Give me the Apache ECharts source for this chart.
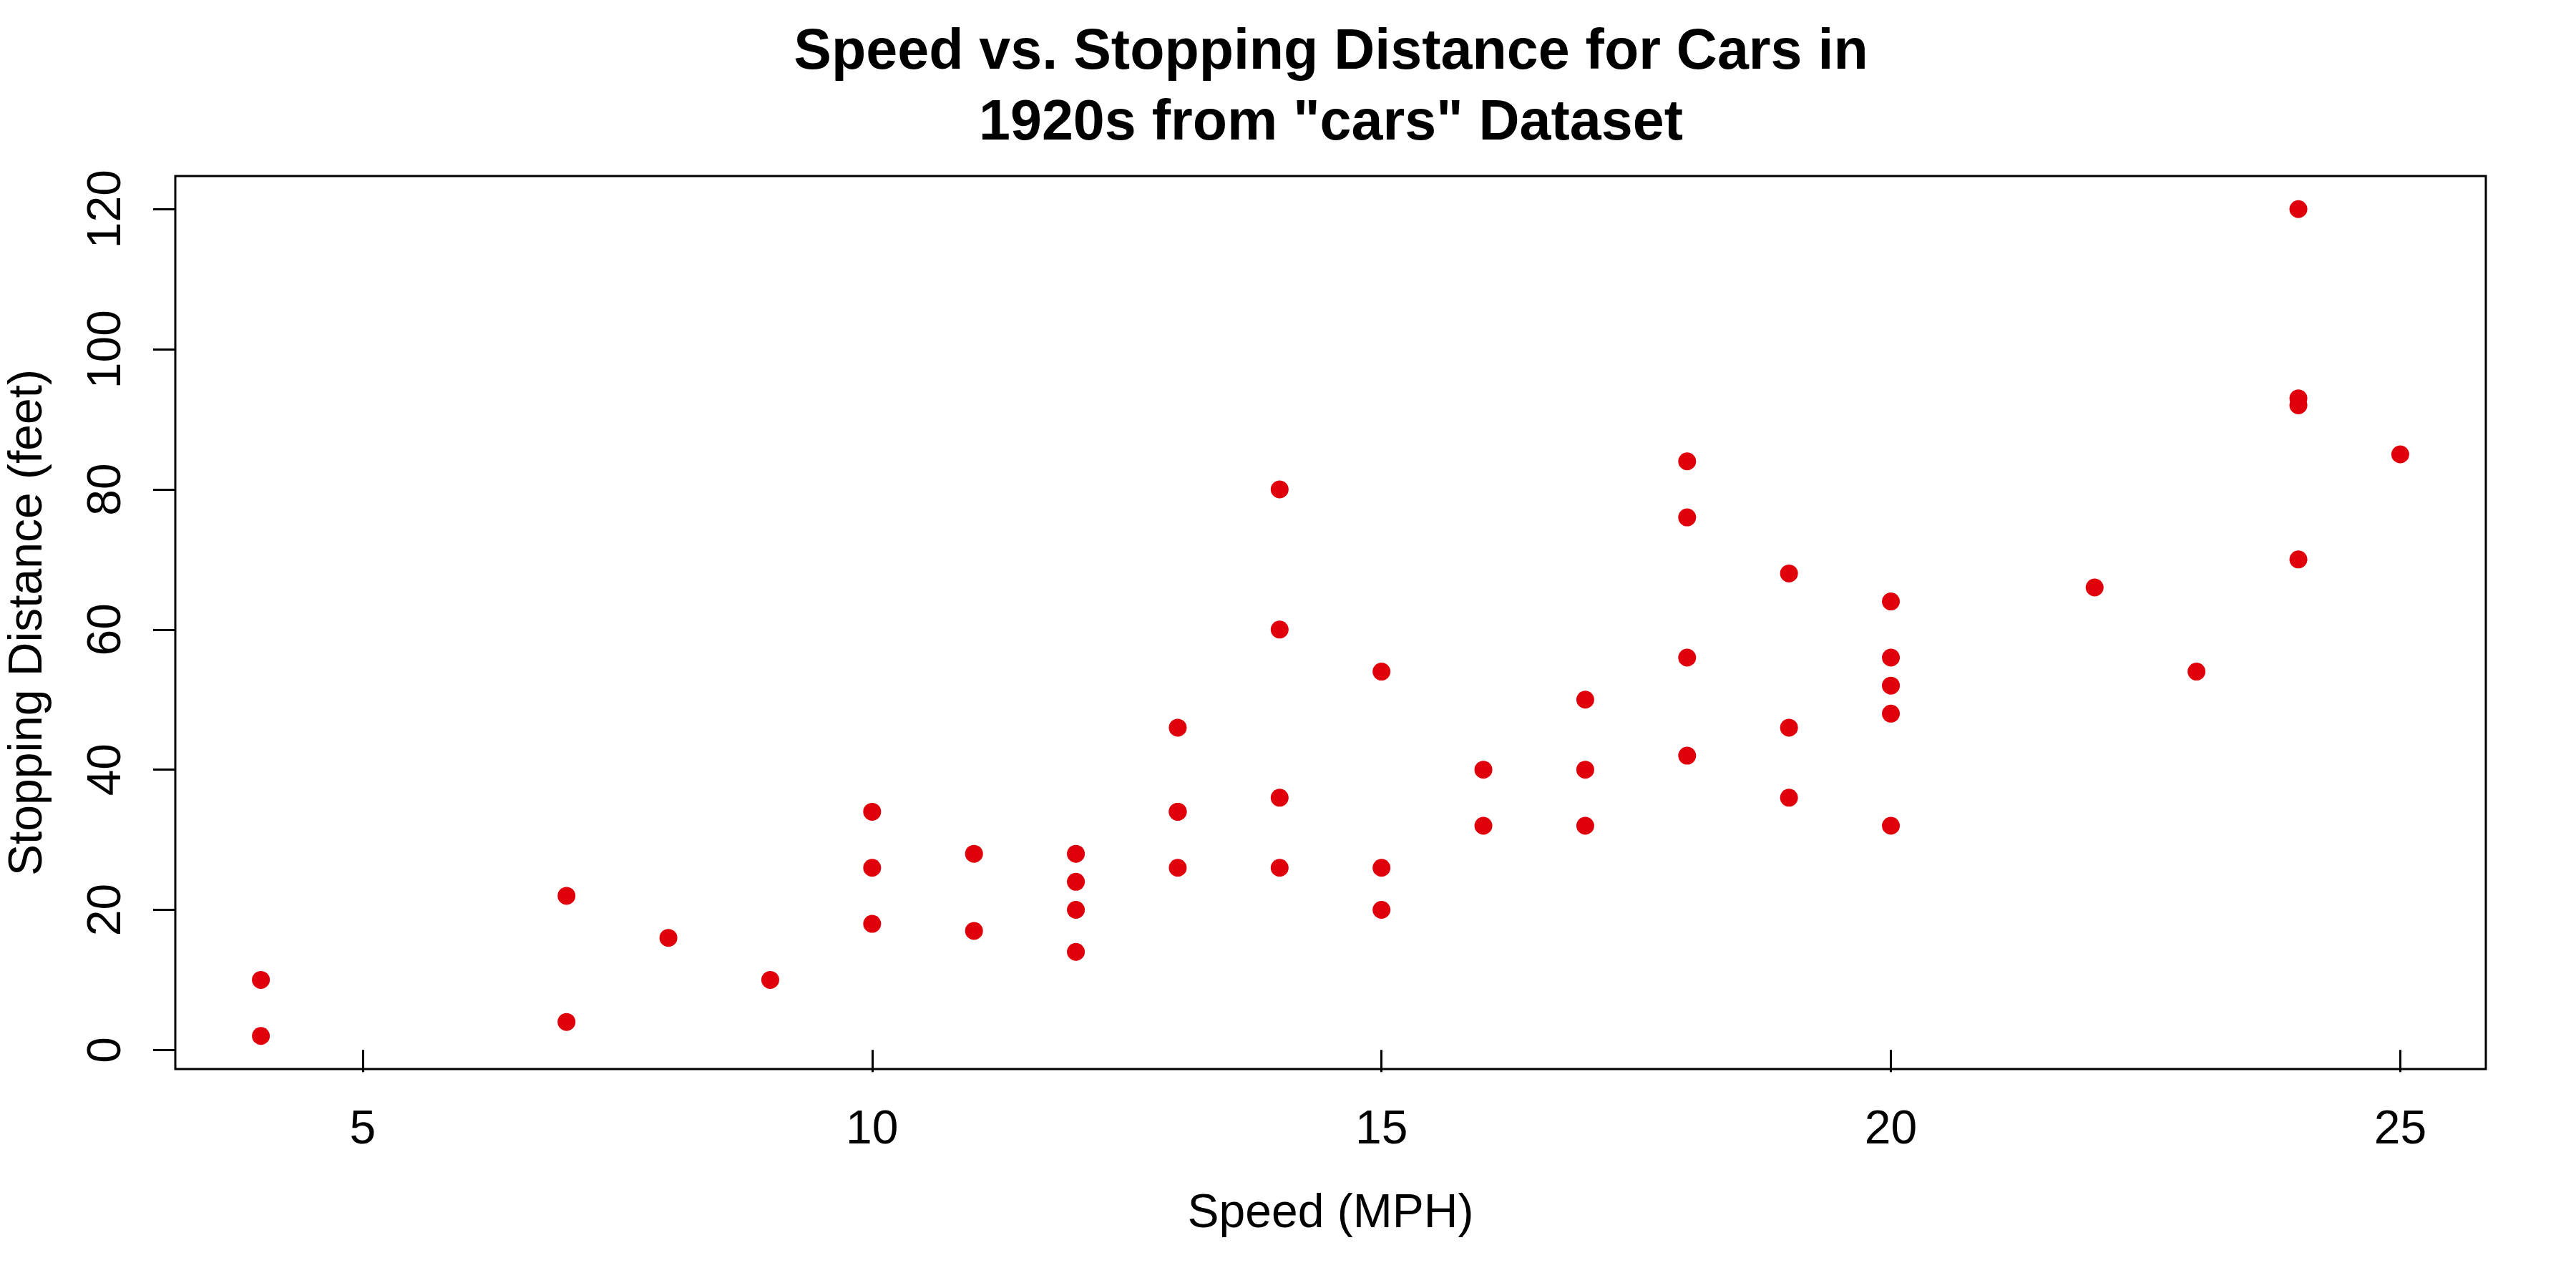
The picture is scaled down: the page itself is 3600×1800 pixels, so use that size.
<!DOCTYPE html>
<html>
<head>
<meta charset="utf-8">
<script src="https://cdn.jsdelivr.net/npm/echarts@6/dist/echarts.min.js"></script>
<style>
  html, body { margin: 0; padding: 0; background: #ffffff; }
  #chart { width: 3600px; height: 1800px; }
</style>
</head>
<body>
<div id="chart"></div>
<script>
// Data: R "cars" dataset (speed in MPH, stopping distance in feet)
const speed = [4, 4, 7, 7, 8, 9, 10, 10, 10, 11, 11, 12, 12, 12, 12, 13, 13, 13, 13, 14, 14, 14, 14, 15, 15, 15, 16, 16, 17, 17, 17, 18, 18, 18, 18, 19, 19, 19, 20, 20, 20, 20, 20, 22, 23, 24, 24, 24, 24, 25];
const dist = [2, 10, 4, 22, 16, 10, 18, 26, 34, 17, 28, 14, 20, 24, 28, 26, 34, 34, 46, 26, 36, 60, 80, 20, 26, 54, 32, 40, 32, 40, 50, 42, 56, 76, 84, 36, 46, 68, 32, 48, 52, 56, 64, 66, 54, 70, 92, 93, 120, 85];
const xTicks = [5, 10, 15, 20, 25];
const yTicks = [0, 20, 40, 60, 80, 100, 120];
const titleText = 'Speed vs. Stopping Distance for Cars in\n1920s from "cars" Dataset';
const xName = 'Speed (MPH)';
const yName = 'Stopping Distance (feet)';

const points = speed.map((s, i) => [s, dist[i]]);

const chart = echarts.init(document.getElementById('chart'), null, { renderer: 'canvas' });
const FONT = 'Liberation Sans, Arial, Helvetica, sans-serif';

chart.setOption({
  animation: false,
  backgroundColor: '#ffffff',
  title: {
    text: titleText,
    left: 1860,
    top: 25,
    padding: 0,
    textAlign: 'center',
    textStyle: {
      fontFamily: FONT,
      fontWeight: 'bold',
      fontSize: 79,
      lineHeight: 99,
      color: '#000000'
    }
  },
  grid: {
    left: 245,
    right: 126,
    top: 246,
    bottom: 306,
    show: true,
    borderColor: '#000000',
    borderWidth: 3,
    backgroundColor: 'transparent',
    containLabel: false,
    outerBoundsMode: 'none'
  },
  xAxis: {
    type: 'value',
    min: 3.16,
    max: 25.84,
    name: xName,
    nameLocation: 'middle',
    nameGap: 170,
    nameTextStyle: { fontFamily: FONT, fontSize: 66, color: '#000000' },
    axisLine: { show: false },
    splitLine: { show: false },
    axisTick: {
      show: true,
      inside: false,
      length: 31,
      customValues: xTicks,
      lineStyle: { color: '#000000', width: 3 }
    },
    axisLabel: {
      show: true,
      customValues: xTicks,
      margin: 53,
      fontFamily: FONT,
      fontSize: 66,
      color: '#000000'
    }
  },
  yAxis: {
    type: 'value',
    min: -2.72,
    max: 124.72,
    name: yName,
    nameLocation: 'middle',
    nameGap: 172,
    nameRotate: 90,
    nameTextStyle: { fontFamily: FONT, fontSize: 66, color: '#000000' },
    axisLine: { show: false },
    splitLine: { show: false },
    axisTick: {
      show: true,
      inside: false,
      length: 31,
      customValues: yTicks,
      lineStyle: { color: '#000000', width: 3 }
    },
    axisLabel: {
      show: true,
      customValues: yTicks,
      rotate: 90,
      margin: 62,
      fontFamily: FONT,
      fontSize: 66,
      color: '#000000'
    }
  },
  series: [{
    type: 'scatter',
    data: points,
    symbol: 'circle',
    symbolSize: 25,
    itemStyle: { color: '#E0000B', opacity: 1 },
    emphasis: { disabled: true },
    silent: true
  }]
});
</script>
</body>
</html>
